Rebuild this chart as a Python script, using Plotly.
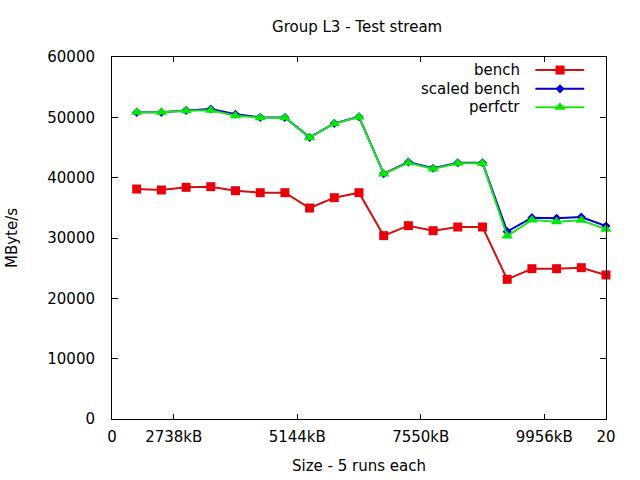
import plotly.graph_objects as go

x_idx = list(range(1, 21))
bench = [38120, 37960, 38400, 38510, 37840, 37510, 37510, 34970, 36680, 37510,
         30390, 32040, 31210, 31820, 31820, 23150, 24910, 24910, 25080, 23870]
scaled_bench = [50830, 50830, 51150, 51380, 50500, 50000, 49990, 46680, 49000, 50100,
                40650, 42600, 41550, 42480, 42480, 31050, 33370, 33260, 33480, 31990]
perfctr = [50830, 50830, 51100, 51170, 50270, 49940, 49940, 46630, 48950, 50060,
           40610, 42480, 41440, 42380, 42380, 30330, 32980, 32700, 32930, 31440]

series_names = ["bench", "scaled bench", "perfctr"]
series_colors = ["#e8000b", "#0000d8", "#00e800"]
series_line = ["#d01010", "#0000c0", "#20e020"]
series_symbols = ["square", "diamond", "triangle-up"]
series_sizes = [9, 7, 10]

tick_vals = [0, 2.5, 7.5, 12.5, 17.5, 20]
tick_text = ["0", "2738kB", "5144kB", "7550kB", "9956kB", "20"]

FONT = "DejaVu Sans"
FS = 15
fig = go.Figure()

for name, ys, lc, mc, sym, sz in zip(series_names, [bench, scaled_bench, perfctr],
                                      series_line, series_colors, series_symbols, series_sizes):
    fig.add_trace(go.Scatter(x=x_idx, y=ys, mode="lines+markers", name=name,
                             line=dict(color=lc, width=2),
                             marker=dict(symbol=sym, size=sz, color=mc, line=dict(width=0)),
                             showlegend=False, cliponaxis=False))

# custom gnuplot-style legend (text left, sample right)
leg_y = [0.964, 0.912, 0.861]
for i, (name, lc, mc, sym, sz) in enumerate(zip(series_names, series_line, series_colors,
                                                 series_symbols, series_sizes)):
    fig.add_trace(go.Scatter(x=[0.857, 0.956], y=[leg_y[i]] * 2, xaxis="x2", yaxis="y2",
                             mode="lines", line=dict(color=lc, width=2),
                             showlegend=False, hoverinfo="skip"))
    fig.add_trace(go.Scatter(x=[0.907], y=[leg_y[i]], xaxis="x2", yaxis="y2",
                             mode="markers", marker=dict(symbol=sym, size=sz, color=mc),
                             showlegend=False, hoverinfo="skip"))
    fig.add_annotation(x=0.830, y=leg_y[i], xref="x2", yref="y2", text=name,
                       showarrow=False, xanchor="right", yanchor="middle",
                       font=dict(family=FONT, size=FS, color="#000000"))

fig.update_layout(
    width=640, height=480,
    margin=dict(l=112, r=34, t=57, b=61),
    paper_bgcolor="white", plot_bgcolor="white",
    font=dict(family=FONT, size=FS, color="#000000"),
    title=dict(text="Group L3 - Test stream", x=0.558, xanchor="center",
               y=1 - 27/480, yanchor="middle", font=dict(family=FONT, size=FS)),
    xaxis=dict(range=[0, 20], tickvals=tick_vals, ticktext=tick_text, automargin=False,
               tickfont=dict(family=FONT, size=FS), ticklabelstandoff=4,
               showgrid=False, zeroline=False, showline=True, linecolor="black",
               linewidth=1, mirror="ticks", ticks="inside", ticklen=5, tickcolor="black",
               title=dict(text="Size - 5 runs each", standoff=15,
                          font=dict(family=FONT, size=FS))),
    yaxis=dict(range=[0, 60000], dtick=10000, tickformat="d", automargin=False,
               tickfont=dict(family=FONT, size=FS), ticklabelstandoff=13,
               showgrid=False, zeroline=False, showline=True, linecolor="black",
               linewidth=1, mirror="ticks", ticks="inside", ticklen=6, tickcolor="black",
               title=dict(text="MByte/s", standoff=26,
                          font=dict(family=FONT, size=FS))),
    xaxis2=dict(range=[0, 1], overlaying="x", visible=False, fixedrange=True),
    yaxis2=dict(range=[0, 1], overlaying="y", visible=False, fixedrange=True),
)

fig.write_html("out.html")
